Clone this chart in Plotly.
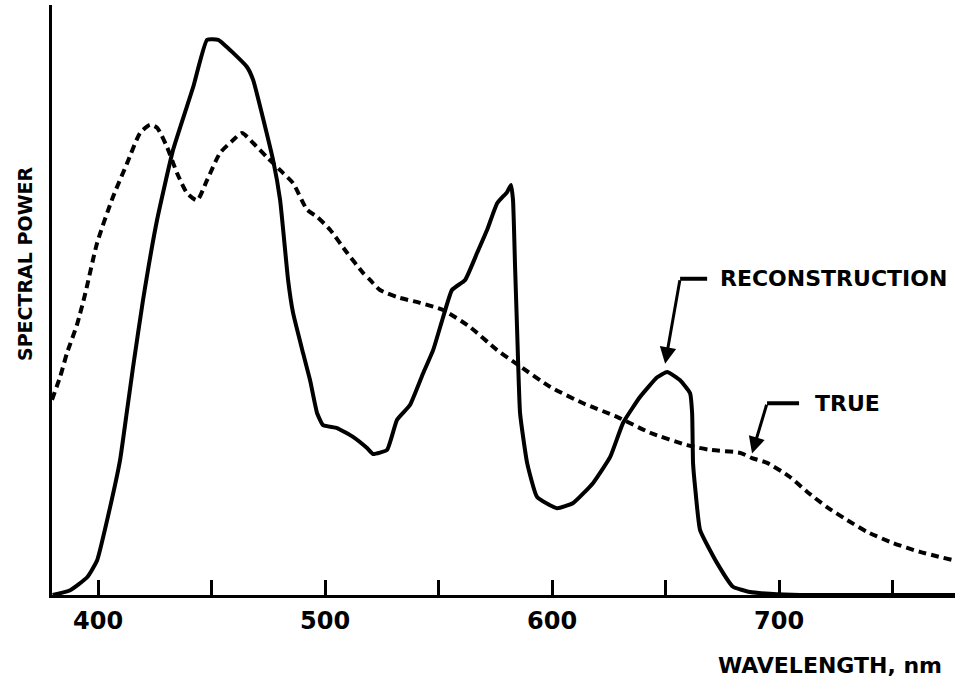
import plotly.graph_objects as go

# Reconstruction (solid) spectrum, wavelength nm vs relative power
recon_nm = [380, 387.7, 395.2, 399.6, 405.3, 409.7, 412.8, 415.4, 419.8, 426.0, 433.0, 441.9,
            448.0, 452.9, 465.6, 468.3, 477.1, 480.2, 483.7, 485.9, 490.3, 493.4, 496.5, 499.1,
            505.3, 512.3, 518.5, 521.1, 527.3, 531.7, 537.4, 543.2, 547.6, 552.0, 555.9, 561.7,
            567.0, 571.4, 575.8, 580.2, 581.9, 582.8, 583.7, 584.6, 585.9, 589.0, 593.4, 602.2,
            609.3, 618.1, 625.6, 631.3, 638.8, 646.3, 650.7, 656.4, 660.8, 661.7, 662.1, 663.0,
            665.2, 672.7, 679.7, 687.2, 696.0, 709.3, 777.5]
recon_pw = [0, 0.8, 3.0, 5.9, 14.9, 22.9, 31.4, 38.6, 50.0, 63.6, 75.4, 86.1,
            94.1, 94.1, 89.5, 87.3, 73.7, 66.9, 53.4, 47.8, 41.0, 36.4, 30.8, 28.8,
            28.3, 26.8, 24.9, 23.9, 24.6, 29.7, 32.2, 37.6, 41.5, 47.1, 51.7, 53.4,
            58.0, 61.9, 66.4, 68.3, 69.5, 66.9, 55.6, 44.9, 30.8, 22.4, 16.6, 14.7,
            15.6, 19.0, 23.4, 29.2, 33.6, 36.9, 37.8, 36.4, 34.2, 30.8, 22.4, 18.3,
            11.0, 5.4, 1.4, 0.5, 0.2, 0, 0]

# True (dashed) spectrum
true_nm = [379.7, 383.3, 386.3, 390.7, 394.3, 399.6, 406.6, 412.8, 418.5, 422.9, 426.0, 430.4,
           434.8, 439.2, 443.6, 448.0, 453.7, 459.5, 463.4, 468.3, 474.4, 480.2, 485.9, 492.1,
           496.5, 502.2, 509.7, 516.7, 519.8, 524.2, 531.7, 541.9, 552.0, 563.9, 575.8, 585.0,
           599.1, 613.7, 628.6, 643.2, 659.5, 669.6, 682.8, 688.1, 694.7, 704.8, 712.3, 721.1,
           730.0, 738.8, 750.2, 762.1, 776.7]
true_pw = [33.1, 37.0, 41.0, 45.8, 51.0, 59.7, 67.5, 73.2, 78.3, 79.7, 79.2, 75.9,
           71.5, 68.1, 66.9, 70.3, 74.9, 77.1, 78.3, 76.6, 74.2, 72.0, 69.8, 65.3,
           64.1, 61.9, 58.0, 54.6, 53.4, 51.7, 50.5, 49.5, 48.3, 45.4, 41.5, 39.0,
           35.3, 32.5, 30.2, 27.5, 25.4, 24.6, 24.1, 23.2, 22.4, 20.0, 17.5, 14.9,
           12.7, 10.7, 8.8, 7.3, 5.9]

tick_vals = [400, 450, 500, 550, 600, 650, 700, 750]
tick_text = ["400", "", "500", "", "600", "", "700", ""]

FONT = "DejaVu Sans"

fig = go.Figure()
fig.add_trace(go.Scatter(x=true_nm, y=true_pw, mode="lines",
                         line=dict(color="black", width=4, dash="8px,5px",
                                   shape="spline", smoothing=0.6),
                         showlegend=False, hoverinfo="skip"))
fig.add_trace(go.Scatter(x=recon_nm, y=recon_pw, mode="lines",
                         line=dict(color="black", width=4, shape="spline", smoothing=0.4),
                         showlegend=False, hoverinfo="skip"))

# Label leader lines (horizontal part) and arrows
fig.add_shape(type="line", x0=656.4, y0=53.6, x1=668.3, y1=53.6,
              line=dict(color="black", width=4))
fig.add_annotation(x=649.8, y=39.2, ax=656.4, ay=53.6, axref="x", ayref="y",
                   xref="x", yref="y", text="", showarrow=True,
                   arrowhead=2, arrowsize=1.1, arrowwidth=3, arrowcolor="black")
fig.add_annotation(x=673.1, y=53.6, xref="x", yref="y", text="RECONSTRUCTION",
                   showarrow=False, xanchor="left", yanchor="middle",
                   font=dict(family=FONT, size=22, color="black", weight="bold"))

fig.add_shape(type="line", x0=694.7, y0=32.5, x1=708.8, y1=32.5,
              line=dict(color="black", width=4))
fig.add_annotation(x=688.1, y=24.0, ax=694.7, ay=32.5, axref="x", ayref="y",
                   xref="x", yref="y", text="", showarrow=True,
                   arrowhead=2, arrowsize=1.1, arrowwidth=3, arrowcolor="black")
fig.add_annotation(x=715.0, y=32.5, xref="x", yref="y", text="TRUE",
                   showarrow=False, xanchor="left", yanchor="middle",
                   font=dict(family=FONT, size=22, color="black", weight="bold"))

# Axis titles as free text
fig.add_annotation(x=944, y=665, xref="paper", yref="paper", text="WAVELENGTH, nm",
                   showarrow=False, xanchor="right", yanchor="middle",
                   font=dict(family=FONT, size=22, color="black", weight="bold"))
fig.add_annotation(x=25, y=264, xref="paper", yref="paper", text="SPECTRAL POWER",
                   showarrow=False, textangle=-90, xanchor="center", yanchor="middle",
                   font=dict(family=FONT, size=19, color="black", weight="bold"))

W, H = 961, 687
L, R, T, B = 52, 6, 5, 92
pw, ph = W - L - R, H - T - B

def px_x(v):
    return (v - L) / pw

def px_y(v):
    return (H - B - v) / ph

# convert the paper-pixel annotations
for a in fig.layout.annotations:
    if a.xref == "paper":
        a.x = px_x(a.x)
        a.y = px_y(a.y)

fig.update_layout(
    width=W, height=H,
    margin=dict(l=L, r=R, t=T, b=B),
    paper_bgcolor="white", plot_bgcolor="white",
    showlegend=False,
    xaxis=dict(range=[379.7, 777.5], showgrid=False, zeroline=False,
               showline=True, linecolor="black", linewidth=3,
               tickmode="array", tickvals=tick_vals, ticktext=tick_text,
               ticks="inside", ticklen=15, tickwidth=3, tickcolor="black",
               tickfont=dict(family=FONT, size=24, color="black", weight="bold"),
               ticklabelstandoff=2),
    yaxis=dict(range=[0, 100], showgrid=False, zeroline=False,
               showline=True, linecolor="black", linewidth=3,
               showticklabels=False, ticks=""),
)

fig.write_html("out.html")
